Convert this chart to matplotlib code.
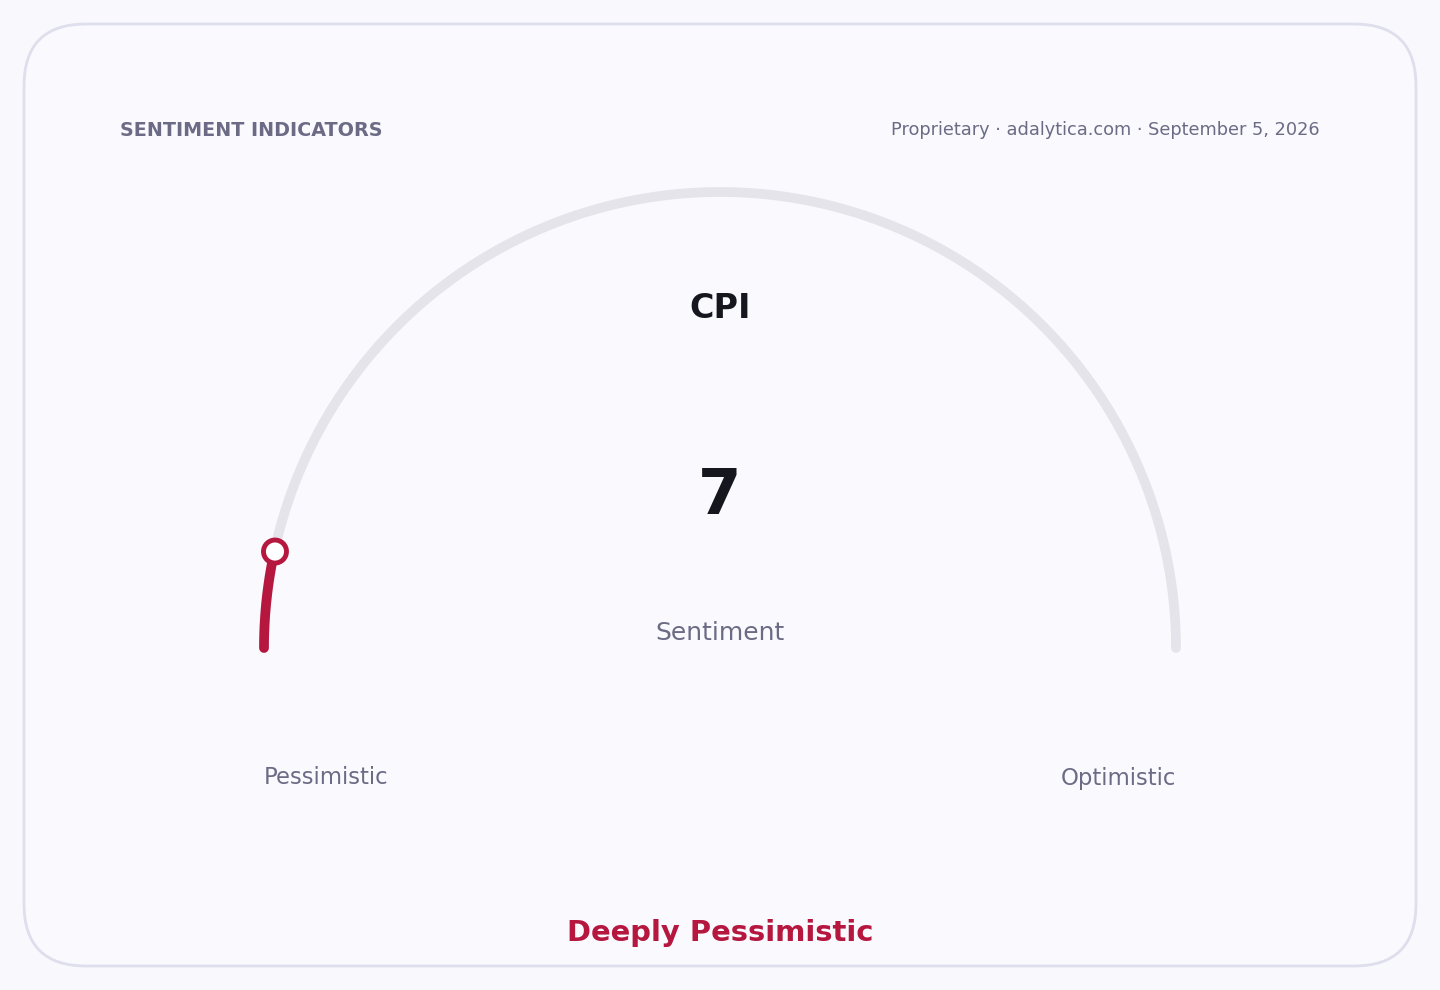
import numpy as np
import matplotlib.pyplot as plt
from matplotlib.patches import FancyBboxPatch, Circle

# data
indicator = "CPI"
value = 7
vmin, vmax = 0, 100
caption = "Sentiment"
label_low = "Pessimistic"
label_high = "Optimistic"
verdict = "Deeply Pessimistic"
header = "SENTIMENT INDICATORS"
source = "Proprietary \u00b7 adalytica.com \u00b7 September 5, 2026"

RED = '#b5173f'
TRACK = '#e4e4ea'
MUTED = '#6b6b85'
DARK = '#16161e'

fig = plt.figure(figsize=(14.4, 9.9), dpi=100)
fig.patch.set_facecolor('#f9f9fd')
ax = fig.add_axes([0, 0, 1, 1])
ax.set_xlim(0, 1440)
ax.set_ylim(990, 0)
ax.axis('off')

card = FancyBboxPatch((24, 24), 1392, 942, boxstyle="round,pad=0,rounding_size=62",
                      facecolor='#f9f9fe', edgecolor='#dedeec', linewidth=2)
ax.add_patch(card)

cx, cy, r = 720, 648, 456

def pt(v):
    ang = np.pi * (1 - (v - vmin) / (vmax - vmin))
    return cx + r * np.cos(ang), cy - r * np.sin(ang)

# track
vals = np.linspace(vmin, vmax, 400)
xs, ys = zip(*[pt(v) for v in vals])
ax.plot(xs, ys, color=TRACK, lw=7, solid_capstyle='round', zorder=2)

# value arc
vals = np.linspace(vmin, value, 60)
xs, ys = zip(*[pt(v) for v in vals])
ax.plot(xs, ys, color=RED, lw=7, solid_capstyle='round', zorder=3)

mx, my = pt(value)
ax.add_patch(Circle((mx, my + 3), 11.5, facecolor='white', edgecolor=RED, lw=3.5, zorder=4))

ax.text(120, 130, header, fontsize=13.8, fontweight='bold', color=MUTED,
        ha='left', va='center')
ax.text(1320, 130, source, fontsize=12.8, color=MUTED, ha='right', va='center')

ax.text(720, 309, indicator, fontsize=24, fontweight='bold', color=DARK,
        ha='center', va='center')
ax.text(720, 497, str(value), fontsize=45, fontweight='bold', color=DARK,
        ha='center', va='center')
ax.text(720, 633, caption, fontsize=18, color=MUTED, ha='center', va='center')

ax.text(264, 778, label_low, fontsize=16.4, color=MUTED, ha='left', va='center')
ax.text(1176, 778, label_high, fontsize=16.4, color=MUTED, ha='right', va='center')

ax.text(720, 933, verdict, fontsize=20.9, fontweight='bold', color=RED,
        ha='center', va='center')

fig.savefig('out.png', dpi=100, facecolor=fig.get_facecolor())
